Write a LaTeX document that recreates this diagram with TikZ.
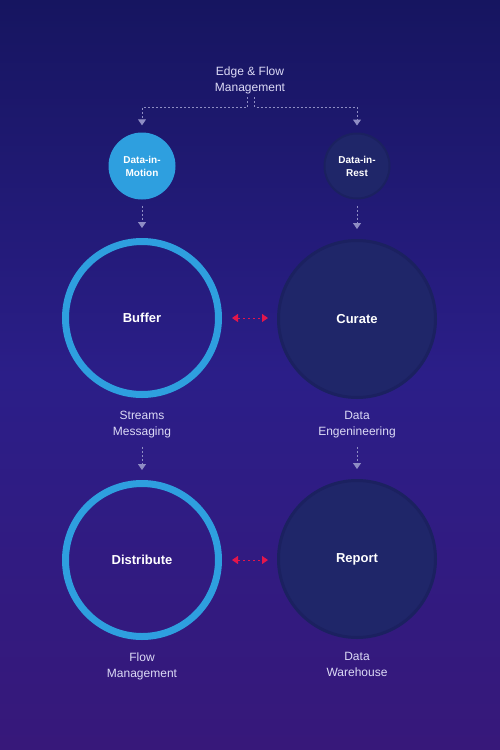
\documentclass[tikz,border=0pt]{standalone}
\usepackage{fontspec}
\setmainfont{Liberation Sans}
\usetikzlibrary{arrows.meta,calc}
\definecolor{bgtop}{HTML}{161560}
\definecolor{bgmid}{HTML}{2B1E88}
\definecolor{bgbot}{HTML}{37187A}
\definecolor{ringblue}{HTML}{2E9FDF}
\definecolor{navy}{HTML}{1F2669}
\definecolor{navyrim}{HTML}{1B2160}
\definecolor{flowgrey}{HTML}{8F8DC4}
\definecolor{redarrow}{HTML}{E3164B}
\definecolor{labeltxt}{HTML}{DCDAF6}
\tikzset{
  lbl/.style={text=labeltxt,align=center,font=\fontsize{12}{16}\selectfont,inner sep=2pt},
  ringnode/.style={circle,draw=ringblue,line width=7pt,minimum size=153pt,inner sep=0pt,text=white,font=\bfseries\fontsize{13}{16}\selectfont},
  navynode/.style={circle,draw=navyrim,fill=navy,line width=3pt,minimum size=157pt,inner sep=0pt,text=white,font=\bfseries\fontsize{13}{16}\selectfont},
  smallblue/.style={circle,fill=ringblue,minimum size=67pt,inner sep=0pt,text=white,align=center,font=\bfseries\fontsize{10}{13}\selectfont},
  smallnavy/.style={circle,draw=navyrim,fill=navy,line width=2pt,minimum size=65pt,inner sep=0pt,text=white,align=center,font=\bfseries\fontsize{10}{13}\selectfont},
  flow/.style={draw=flowgrey,line width=1pt,dash pattern=on 2pt off 2pt,-{Triangle[width=8pt,length=6pt,fill=flowgrey]}},
  redflow/.style={draw=redarrow,line width=1pt,dash pattern=on 2.5pt off 2.5pt,{Triangle[width=8pt,length=6pt,fill=redarrow]}-{Triangle[width=8pt,length=6pt,fill=redarrow]}}
}
\begin{document}
\begin{tikzpicture}[x=1pt,y=-1pt]
\shade[top color=bgtop,bottom color=bgbot,middle color=bgmid] (0,0) rectangle (500,750);
\useasboundingbox (0,0) rectangle (500,750);

\node[lbl] (ef) at (250,80.5) {Edge \& Flow\\Management};
\node[smallblue] (dim) at (142,166) {Data-in-\\Motion};
\node[smallnavy] (dir) at (357,166) {Data-in-\\Rest};
\node[ringnode] (buf) at (142,318) {Buffer};
\node[navynode] (cur) at (357,319) {Curate};
\node[lbl] (sm) at (142,425) {Streams\\Messaging};
\node[lbl] (de) at (357,425) {Data\\Engenineering};
\node[ringnode] (dis) at (142,560) {Distribute};
\node[navynode] (rep) at (357,559) {Report};
\node[lbl] (fm) at (142,666) {Flow\\Management};
\node[lbl] (dw) at (357,666) {Data\\Warehouse\vphantom{g}};

\coordinate (jl) at (142,107);
\coordinate (jr) at (357,107);
\draw[flow,shorten >=7pt] (247.5,97) |- (jl) -- (dim.north);
\draw[flow,shorten >=7pt] (254.5,97) |- (jr) -- (dir.north);

\draw[flow,shorten <=6pt,shorten >=10pt] (dim.south) -- (buf.north);
\draw[flow,shorten <=6pt,shorten >=10pt] (dir.south) -- (cur.north);
\draw[flow,shorten <=6pt,shorten >=10pt] (sm.south) -- (dis.north);
\draw[flow,shorten <=6pt,shorten >=10pt] (de.south) -- (rep.north);

\draw[redflow,shorten <=10pt,shorten >=9pt] (buf.east) -- (cur.west |- buf.east);
\draw[redflow,shorten <=10pt,shorten >=9pt] (dis.east) -- (rep.west |- dis.east);
\end{tikzpicture}
\end{document}
